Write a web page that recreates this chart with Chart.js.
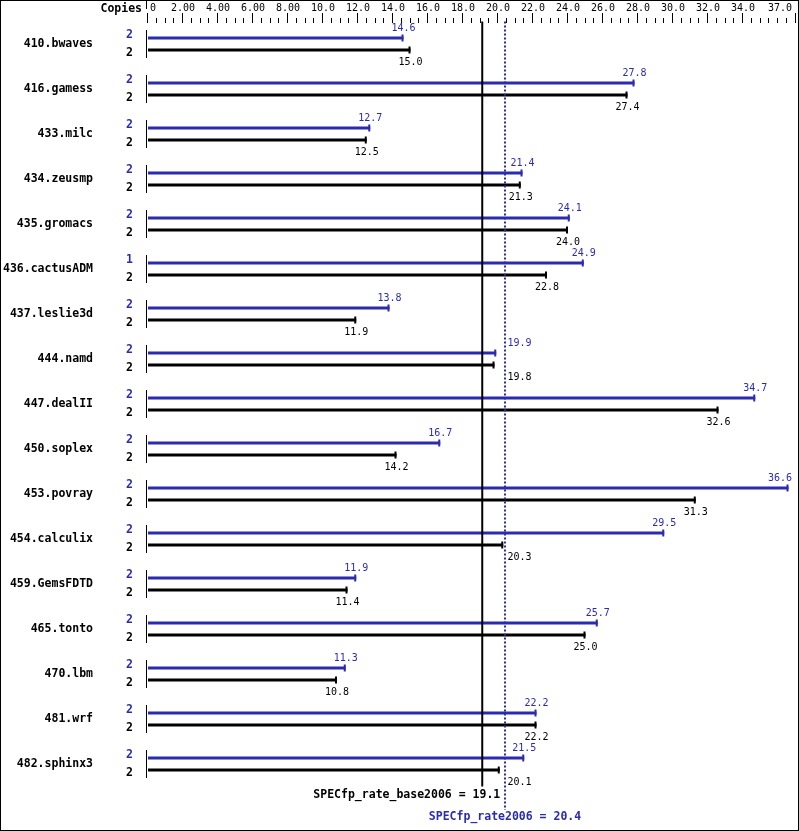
<!DOCTYPE html>
<html><head><meta charset="utf-8">
<script src="https://cdn.jsdelivr.net/npm/chart.js@4/dist/chart.umd.min.js"></script>
<style>html,body{margin:0;padding:0;background:#fff}#wrap{width:799px;height:831px;position:relative}canvas{display:block}</style>
</head><body><div id="wrap"><canvas id="c" width="799" height="831"></canvas></div>
<script>
const benchmarks = ["410.bwaves","416.gamess","433.milc","434.zeusmp","435.gromacs","436.cactusADM","437.leslie3d","444.namd","447.dealII","450.soplex","453.povray","454.calculix","459.GemsFDTD","465.tonto","470.lbm","481.wrf","482.sphinx3"];
const peakValues = [14.6,27.8,12.7,21.4,24.1,24.9,13.8,19.9,34.7,16.7,36.6,29.5,11.9,25.7,11.3,22.2,21.5];
const baseValues = [15.0,27.4,12.5,21.3,24.0,22.8,11.9,19.8,32.6,14.2,31.3,20.3,11.4,25.0,10.8,22.2,20.1];
const peakCopies = [2,2,2,2,2,1,2,2,2,2,2,2,2,2,2,2,2];
const baseCopies = [2,2,2,2,2,2,2,2,2,2,2,2,2,2,2,2,2];
const tickValues = [0,2,4,6,8,10,12,14,16,18,20,22,24,26,28,30,32,34,37];
const tickLabels = ["0","2.00","4.00","6.00","8.00","10.0","12.0","14.0","16.0","18.0","20.0","22.0","24.0","26.0","28.0","30.0","32.0","34.0","37.0"];
const axisMax = 37;
const minorStep = 0.5;
const baseResult = 19.1;
const peakResult = 20.4;
const baseResultLabel = "SPECfp_rate_base2006 = 19.1";
const peakResultLabel = "SPECfp_rate2006 = 20.4";

const BLUE = "#2b2bb0";
const BLACK = "#000000";
const MONO = '"DejaVu Sans Mono", "Liberation Mono", monospace';
const BOLD = 'bold 11.5px ' + MONO;
const NORM = '10px ' + MONO;

const specPlugin = {
  id: 'spec',
  afterDatasetsDraw(chart) {
    const ctx = chart.ctx;
    const xs = chart.scales.x, ys = chart.scales.y;
    const area = chart.chartArea;
    const m0 = chart.getDatasetMeta(0), m1 = chart.getDatasetMeta(1);
    const solidX = xs.getPixelForValue(baseResult);
    const dotX = xs.getPixelForValue(peakResult);
    ctx.save();

    // row labels, copies, left segments
    benchmarks.forEach((name, i) => {
      const cy = ys.getPixelForValue(i);
      const pb = m0.data[i], bb = m1.data[i];
      ctx.textBaseline = 'middle';
      ctx.textAlign = 'right';
      ctx.font = BOLD;
      ctx.fillStyle = BLACK;
      ctx.fillText(name, 93, cy);
      ctx.fillStyle = BLUE;
      ctx.fillText(String(peakCopies[i]), 133, pb.y - 2.5);
      ctx.fillStyle = BLACK;
      ctx.fillText(String(baseCopies[i]), 133, bb.y + 3);
      ctx.strokeStyle = BLACK; ctx.lineWidth = 1;
      ctx.beginPath(); ctx.moveTo(146.5, cy - 14); ctx.lineTo(146.5, cy + 14); ctx.stroke();
    });

    // caps and value labels
    const drawBar = (el, val, color, dy) => {
      ctx.strokeStyle = color; ctx.lineWidth = 2;
      ctx.beginPath(); ctx.moveTo(el.x - 1, el.y - 3.5); ctx.lineTo(el.x - 1, el.y + 3.5); ctx.stroke();
      ctx.font = NORM; ctx.fillStyle = color; ctx.textAlign = 'left'; ctx.textBaseline = 'middle';
      const txt = val.toFixed(1);
      const w = ctx.measureText(txt).width;
      let left = el.x - w / 2;
      if (left < dotX + 2 && left + w > solidX - 2) left = dotX + 2.5;
      if (left + w > 792) left = 792 - w;
      ctx.fillText(txt, left, el.y + dy);
    };
    benchmarks.forEach((n, i) => {
      drawBar(m0.data[i], peakValues[i], BLUE, -10);
      drawBar(m1.data[i], baseValues[i], BLACK, 12);
    });

    // reference lines
    ctx.setLineDash([]);
    ctx.strokeStyle = BLACK; ctx.lineWidth = 2;
    ctx.beginPath(); ctx.moveTo(solidX, area.top); ctx.lineTo(solidX, area.bottom); ctx.stroke();
    ctx.strokeStyle = BLUE; ctx.setLineDash([2, 2]);
    ctx.beginPath(); ctx.moveTo(dotX, area.top); ctx.lineTo(dotX, 810); ctx.stroke();
    ctx.setLineDash([]);

    ctx.font = BOLD; ctx.textBaseline = 'middle';
    ctx.fillStyle = BLACK; ctx.textAlign = 'right';
    ctx.fillText(baseResultLabel, solidX + 18, 795);
    ctx.fillStyle = BLUE; ctx.textAlign = 'center';
    ctx.fillText(peakResultLabel, dotX, 817);

    // top axis ticks
    ctx.strokeStyle = BLACK; ctx.lineWidth = 1;
    for (let v = 0; v <= axisMax + 1e-9; v += minorStep) {
      const x = Math.round(xs.getPixelForValue(v)) - 0.5;
      const major = tickValues.includes(v);
      ctx.beginPath(); ctx.moveTo(x, major ? 13 : 18); ctx.lineTo(x, 23); ctx.stroke();
    }
    ctx.font = NORM; ctx.fillStyle = BLACK; ctx.textAlign = 'left'; ctx.textBaseline = 'middle';
    tickValues.forEach((v, i) => {
      const x = xs.getPixelForValue(v);
      const w = ctx.measureText(tickLabels[i]).width;
      let left = x - w / 2;
      if (left < 150) left = 150;
      if (left + w > 792) left = 792 - w;
      ctx.fillText(tickLabels[i], left, 8);
    });
    ctx.font = BOLD; ctx.textAlign = 'right';
    ctx.fillText("Copies", 142, 9.5);
    ctx.beginPath(); ctx.moveTo(146.5, 0); ctx.lineTo(146.5, 9); ctx.stroke();

    // border
    ctx.strokeRect(0.5, 0.5, 798, 830);
    ctx.restore();
  }
};

new Chart(document.getElementById('c'), {
  type: 'bar',
  data: {
    labels: benchmarks,
    datasets: [
      { label: 'peak', data: peakValues, backgroundColor: BLUE, categoryPercentage: 0.5333, barPercentage: 0.24 },
      { label: 'base', data: baseValues, backgroundColor: BLACK, categoryPercentage: 0.5333, barPercentage: 0.24 }
    ]
  },
  options: {
    indexAxis: 'y',
    responsive: false,
    animation: false,
    devicePixelRatio: 1,
    layout: { padding: { left: 148, right: 3.5, top: 21.5, bottom: 44.5 } },
    plugins: { legend: { display: false }, tooltip: { enabled: false }, title: { display: false } },
    scales: {
      x: { type: 'linear', min: 0, max: axisMax, display: false },
      y: { type: 'category', display: false, offset: true }
    }
  },
  plugins: [specPlugin]
});
</script>
</body></html>
